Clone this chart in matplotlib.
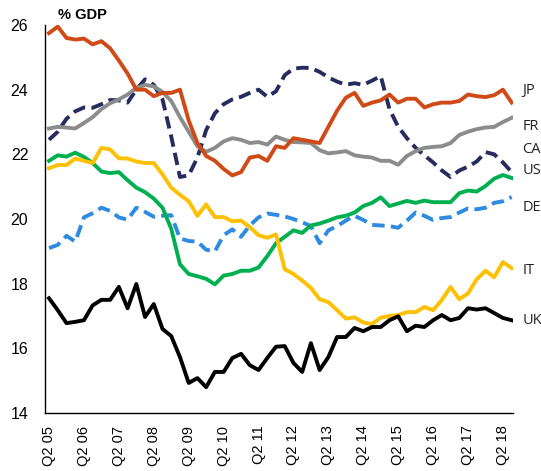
import matplotlib
matplotlib.use("Agg")
import matplotlib.pyplot as plt
import numpy as np

plt.rcParams['font.family'] = ['Liberation Sans', 'DejaVu Sans']

# Quarterly from Q2 2005 to Q3 2018
n_quarters = 54
years = list(range(5, 19))
tick_labels = [f"Q2 {y:02d}" for y in years]

JP = [25.75, 25.95, 25.6, 25.55, 25.58, 25.4, 25.5, 25.28, 24.9, 24.5,
      24.0, 24.0, 23.8, 23.9, 23.9, 24.0, 23.05, 22.35, 21.95, 21.8,
      21.55, 21.35, 21.45, 21.9, 21.95, 21.8, 22.25, 22.2, 22.5, 22.45,
      22.4, 22.35, 22.85, 23.35, 23.75, 23.9, 23.5, 23.6, 23.67, 23.85,
      23.6, 23.72, 23.72, 23.45, 23.55, 23.6, 23.6, 23.65, 23.85, 23.8,
      23.77, 23.83, 24.0, 23.6]
FR = [22.8, 22.85, 22.83, 22.8, 22.97, 23.15, 23.4, 23.58, 23.7, 23.85,
      24.05, 24.15, 24.1, 23.93, 23.65, 23.15, 22.7, 22.25, 22.08, 22.2,
      22.4, 22.5, 22.45, 22.35, 22.38, 22.3, 22.55, 22.45, 22.38, 22.37,
      22.35, 22.13, 22.03, 22.06, 22.1, 21.97, 21.93, 21.9, 21.8, 21.8,
      21.68, 21.95, 22.1, 22.2, 22.23, 22.25, 22.35, 22.6, 22.7, 22.78,
      22.83, 22.85, 23.0, 23.13]
NAVY = [22.45, 22.7, 23.1, 23.33, 23.45, 23.44, 23.55, 23.68, 23.67, 23.6,
        24.0, 24.32, 24.15, 23.7, 22.55, 21.3, 21.35, 21.9, 22.75, 23.27,
        23.55, 23.7, 23.78, 23.9, 24.0, 23.78, 23.95, 24.45, 24.65, 24.68,
        24.67, 24.55, 24.38, 24.25, 24.15, 24.2, 24.15, 24.28, 24.42, 23.4,
        22.85, 22.5, 22.2, 21.97, 21.75, 21.5, 21.3, 21.5, 21.62, 21.78,
        22.07, 22.0, 21.75, 21.45]
GREEN = [21.8, 21.97, 21.93, 22.05, 21.92, 21.73, 21.47, 21.42, 21.45, 21.2,
         20.97, 20.83, 20.63, 20.35, 19.7, 18.6, 18.3, 18.23, 18.15, 17.98,
         18.25, 18.3, 18.4, 18.4, 18.5, 18.85, 19.25, 19.45, 19.65, 19.57,
         19.8, 19.86, 19.95, 20.05, 20.1, 20.2, 20.4, 20.5, 20.67, 20.4,
         20.48, 20.56, 20.5, 20.57, 20.52, 20.52, 20.52, 20.8, 20.88, 20.85,
         21.02, 21.25, 21.36, 21.27]
BLUE = [19.1, 19.2, 19.48, 19.3, 20.05, 20.18, 20.35, 20.25, 20.05, 19.98,
        20.35, 20.22, 20.07, 20.1, 20.12, 19.4, 19.32, 19.3, 19.05, 19.0,
        19.5, 19.68, 19.45, 19.8, 20.05, 20.17, 20.13, 20.08, 20.0, 19.9,
        19.78, 19.25, 19.65, 19.78, 19.95, 20.1, 19.97, 19.82, 19.8, 19.78,
        19.73, 19.95, 20.2, 20.1, 19.97, 20.03, 20.06, 20.2, 20.33, 20.3,
        20.35, 20.5, 20.55, 20.68]
IT = [21.57, 21.67, 21.67, 21.87, 21.8, 21.73, 22.2, 22.15, 21.88, 21.87,
      21.78, 21.73, 21.73, 21.38, 20.97, 20.75, 20.55, 20.1, 20.45, 20.06,
      20.06, 19.93, 19.95, 19.75, 19.5, 19.42, 19.52, 18.45, 18.3, 18.1,
      17.87, 17.52, 17.43, 17.18, 16.92, 16.96, 16.8, 16.75, 16.95, 17.0,
      17.03, 17.12, 17.12, 17.28, 17.18, 17.5, 17.9, 17.52, 17.7, 18.14,
      18.4, 18.2, 18.67, 18.48]
UK = [17.55, 17.18, 16.78, 16.82, 16.87, 17.33, 17.5, 17.5, 17.9, 17.24,
      17.99, 16.97, 17.37, 16.6, 16.38, 15.73, 14.93, 15.08, 14.8, 15.27,
      15.27, 15.7, 15.83, 15.48, 15.33, 15.7, 16.05, 16.07, 15.55, 15.27,
      16.16, 15.33, 15.73, 16.35, 16.35, 16.63, 16.53, 16.66, 16.66, 16.87,
      16.99, 16.53, 16.7, 16.66, 16.87, 17.03, 16.87, 16.94, 17.24, 17.2,
      17.24, 17.09, 16.94, 16.87]

label_names = ["JP", "FR", "CA", "US", "DE", "IT", "UK"]
label_y = [23.99, 22.85, 22.16, 21.5, 20.37, 18.42, 16.87]

fig = plt.figure(figsize=(5.41, 4.71), dpi=100)
ax = fig.add_axes([0.0832, 0.1231, 0.865, 0.8238])

x = np.arange(n_quarters)
lw = 2.8
ax.plot(x, BLUE, color="#2E8BE0", lw=lw, dashes=(3.2, 1.6), zorder=2)
ax.plot(x, NAVY, color="#262C5E", lw=lw, dashes=(3.2, 1.6), zorder=3)
ax.plot(x, FR, color="#8C8C8C", lw=lw, zorder=4)
ax.plot(x, GREEN, color="#00B050", lw=lw, zorder=5)
ax.plot(x, IT, color="#FFC000", lw=lw, zorder=6)
ax.plot(x, JP, color="#D04A17", lw=lw, zorder=7)
ax.plot(x, UK, color="#000000", lw=lw, zorder=8)

ax.set_ylim(14, 26)
ax.set_xlim(-0.46, 53.15)
ax.set_yticks(np.arange(14, 27, 2))
ax.set_xticks(np.arange(0, n_quarters, 4))
ax.set_xticklabels(tick_labels, rotation=90, fontsize=10.5)
ax.tick_params(axis='y', length=0, pad=12, labelsize=11.5)
ax.tick_params(axis='x', length=0, pad=9)
for s in ["top", "right"]:
    ax.spines[s].set_visible(False)
ax.spines["left"].set_linewidth(1.0)
ax.spines["bottom"].set_linewidth(1.0)

for name, yv in zip(label_names, label_y):
    ax.text(54.2, yv, name, fontsize=10.5, va="center", ha="left",
            color="#222222", clip_on=False,
            family=["Open Sans", "DejaVu Sans"])

fig.text(0.107, 0.968, "% GDP", fontsize=10.5, fontweight="bold",
         va="center", ha="left")

fig.savefig("out.png", dpi=100)
